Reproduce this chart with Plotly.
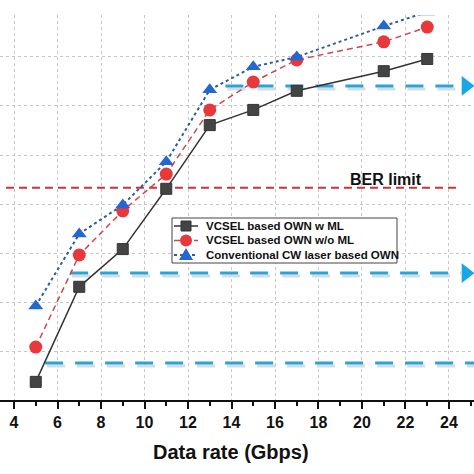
import plotly.graph_objects as go

# ---- data ----
data_rate = [5, 7, 9, 11, 13, 15, 17, 21, 23]
vcsel_ml = [0.37, 2.31, 3.08, 4.31, 5.61, 5.92, 6.31, 6.71, 6.96]
vcsel_no_ml = [1.08, 2.96, 3.86, 4.61, 5.92, 6.49, 6.94, 7.31, 7.61]
cw_laser = [1.92, 3.39, 3.98, 4.86, 6.33, 6.80, 7.00, 7.63, 7.92]

series_names = ["VCSEL based OWN w ML", "VCSEL based OWN w/o ML",
                "Conventional CW laser based OWN"]

ber_limit = 4.33
ber_x = [3.63, 24.5]

arrow_levels = [6.41, 2.59, 0.755]
arrow_start = [13.72, 6.58, 5.43]
arrow_end = [24.78, 24.78, 26.5]

x_ticks = [4, 6, 8, 10, 12, 14, 16, 18, 20, 22, 24]

XR = [3.356, 25.15]
YR = [0.0, 7.857]
W, H = 474, 474
ML, MR, MT, MB = 0, 0, 15, 74
PW, PH = W - ML - MR, H - MT - MB
px_x = (XR[1] - XR[0]) / PW
px_y = (YR[1] - YR[0]) / PH

FONT = "Liberation Sans"

SERIES_STYLE = [
    dict(line=dict(color="#333333", width=1.5),
         marker=dict(symbol="square", size=11, color="#444444", line=dict(color="#333333", width=1))),
    dict(line=dict(color="#c94a4e", width=1.5, dash="6px,4px"),
         marker=dict(symbol="circle", size=13, color="#e8383c", line=dict(width=0))),
    dict(line=dict(color="#2f5d9a", width=2, dash="dot"),
         marker=dict(symbol="triangle-up", size=13, color="#2368d0", line=dict(width=0))),
]

fig = go.Figure()

# BER limit line
fig.add_trace(go.Scatter(x=ber_x, y=[ber_limit, ber_limit], mode="lines",
                         line=dict(color="#c8343c", width=2, dash="8px,5px"),
                         showlegend=False, hoverinfo="skip"))

# cyan arrows with soft shadow
for lvl, xs, xe in zip(arrow_levels, arrow_start, arrow_end):
    fig.add_trace(go.Scatter(x=[xs + 2 * px_x, xe - 0.3], y=[lvl - 3 * px_y] * 2, mode="lines",
                             line=dict(color="#d3dde2", width=3, dash="18px,12px"),
                             showlegend=False, hoverinfo="skip"))
    fig.add_trace(go.Scatter(x=[xs, xe - 0.25], y=[lvl, lvl], mode="lines",
                             line=dict(color="#2aa3d6", width=3, dash="18px,12px"),
                             showlegend=False, hoverinfo="skip"))
    fig.add_trace(go.Scatter(x=[xe], y=[lvl], mode="markers",
                             marker=dict(symbol="triangle-right", size=17, color="#17a6e6",
                                         line=dict(width=0)),
                             showlegend=False, hoverinfo="skip"))

# data series
for ys, name, st in zip([vcsel_ml, vcsel_no_ml, cw_laser], series_names, SERIES_STYLE):
    fig.add_trace(go.Scatter(x=data_rate, y=ys, mode="lines+markers", name=name,
                             line=st["line"], marker=st["marker"], showlegend=False))

fig.add_annotation(x=21.1, y=4.51, text="<b>BER limit</b>", showarrow=False,
                   font=dict(family=FONT, size=16, color="#111111"))

# ---- hand-drawn legend box (paper coords relative to plot area) ----
def pxp(px):
    return (px - ML) / PW

def pyp(py):
    return (H - MB - py) / PH

fig.add_shape(type="rect", xref="paper", yref="paper",
              x0=pxp(172), x1=pxp(397), y0=pyp(263), y1=pyp(218),
              line=dict(color="#444444", width=1), fillcolor="rgba(255,255,255,0.95)", layer="above")
row_y = [226, 240.5, 255]
for i, (name, st) in enumerate(zip(series_names, SERIES_STYLE)):
    yy = row_y[i]
    dash = st["line"].get("dash", "solid")
    fig.add_shape(type="line", xref="paper", yref="paper", layer="above",
                  x0=pxp(174), x1=pxp(198), y0=pyp(yy), y1=pyp(yy),
                  line=dict(color=st["line"]["color"], width=st["line"]["width"], dash=dash))
    c = st["marker"]["color"]
    if i == 0:
        fig.add_shape(type="rect", xref="paper", yref="paper", layer="above",
                      x0=pxp(181), x1=pxp(191), y0=pyp(yy + 5), y1=pyp(yy - 5),
                      fillcolor=c, line=dict(color="#333333", width=1))
    elif i == 1:
        fig.add_shape(type="circle", xref="paper", yref="paper", layer="above",
                      x0=pxp(180), x1=pxp(192), y0=pyp(yy + 6), y1=pyp(yy - 6),
                      fillcolor=c, line=dict(width=0))
    else:
        fig.add_shape(type="path", xref="paper", yref="paper", layer="above",
                      path=f"M {pxp(179)} {pyp(yy + 5)} L {pxp(193)} {pyp(yy + 5)} "
                           f"L {pxp(186)} {pyp(yy - 7)} Z",
                      fillcolor=c, line=dict(width=0))
    fig.add_annotation(xref="paper", yref="paper", x=pxp(204), y=pyp(yy),
                       xanchor="left", yanchor="middle", showarrow=False,
                       text=f"<b>{name}</b>", font=dict(family=FONT, size=11.5, color="#111111"))

# x-axis title
fig.add_annotation(xref="paper", yref="paper", x=pxp(231), y=pyp(452),
                   xanchor="center", yanchor="middle", showarrow=False,
                   text="<b>Data rate (Gbps)</b>", font=dict(family=FONT, size=20, color="#111111"))

fig.update_layout(
    width=W, height=H,
    margin=dict(l=ML, r=MR, t=MT, b=MB),
    paper_bgcolor="white", plot_bgcolor="white",
    font=dict(family=FONT, color="#111111"),
    showlegend=False,
    xaxis=dict(range=XR, tickvals=x_ticks, ticktext=[str(v) for v in x_ticks],
               showline=True, linecolor="#111111", linewidth=2,
               ticks="outside", ticklen=7, tickwidth=2, tickcolor="#111111",
               tickfont=dict(family=FONT, size=16, weight="bold"),
               showgrid=True, gridcolor="#c6c6c6", griddash="dot", gridwidth=1,
               minor=dict(dtick=1, tick0=3, ticks="outside", ticklen=4, tickwidth=2,
                          tickcolor="#111111", showgrid=False),
               zeroline=False),
    yaxis=dict(range=YR, dtick=1, tick0=0, showticklabels=False, ticks="",
               showline=False, showgrid=True, gridcolor="#c6c6c6", griddash="dot",
               gridwidth=1, zeroline=False),
)

fig.write_html("out.html")
